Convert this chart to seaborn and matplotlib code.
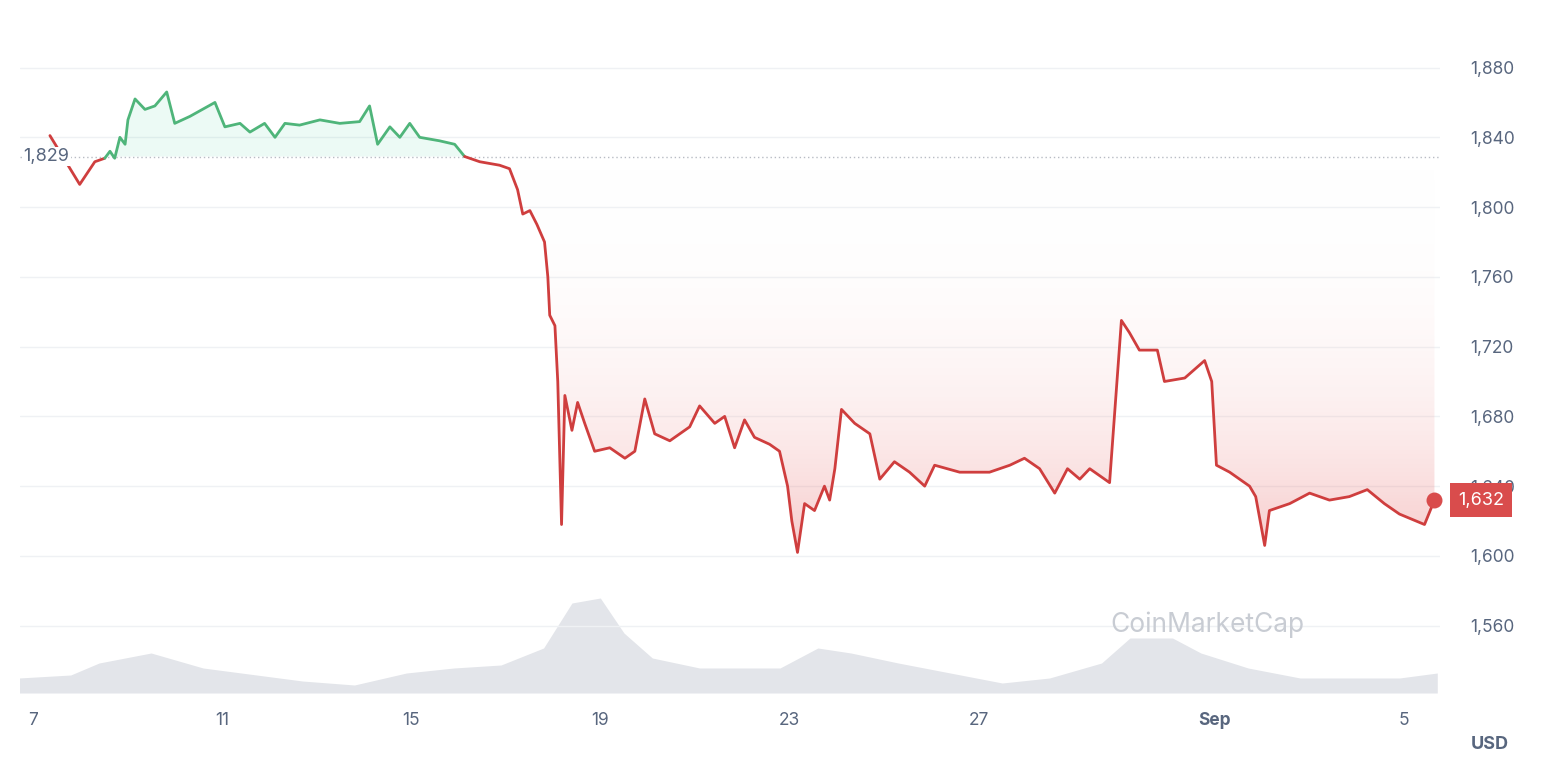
import numpy as np
import pandas as pd
import matplotlib.pyplot as plt
import matplotlib.dates as mdates
import seaborn as sns
from matplotlib.colors import LinearSegmentedColormap
from matplotlib.patches import Polygon

sns.set_style('white')
plt.rcParams['font.family'] = ['Inter', 'DejaVu Sans']

# days after Aug 7 00:00 and ETH price (USD)
days = [0.36, 0.99, 1.31, 1.52, 1.63, 1.73, 1.84, 1.95, 2.01, 2.16, 2.37, 2.58, 2.83, 3.0, 3.32,
        3.85, 4.06, 4.38, 4.59, 4.9, 5.12, 5.33, 5.64, 6.07, 6.49, 6.91, 7.12, 7.29, 7.55, 7.76,
        7.97, 8.18, 8.6, 8.92, 9.13, 9.45, 9.87, 10.08, 10.25, 10.36, 10.51, 10.66, 10.82, 10.89,
        10.93, 11.04, 11.1, 11.18, 11.25, 11.4, 11.52, 11.67, 11.88, 12.2, 12.52, 12.73, 12.94,
        13.15, 13.47, 13.89, 14.1, 14.42, 14.63, 14.84, 15.05, 15.26, 15.58, 15.79, 15.96, 16.05,
        16.17, 16.32, 16.53, 16.74, 16.85, 16.96, 17.1, 17.38, 17.7, 17.91, 18.22, 18.54, 18.86,
        19.07, 19.6, 20.23, 20.66, 20.97, 21.29, 21.61, 21.88, 22.14, 22.35, 22.77, 23.02, 23.19,
        23.4, 23.78, 23.93, 24.36, 24.78, 24.93, 25.03, 25.31, 25.73, 25.86, 26.05, 26.15, 26.58,
        27.0, 27.42, 27.84, 28.22, 28.58, 28.9, 29.43, 29.64]
prices = [1841, 1813, 1826, 1828, 1832, 1828, 1840, 1836, 1850, 1862, 1856, 1858, 1866, 1848, 1852,
          1860, 1846, 1848, 1843, 1848, 1840, 1848, 1847, 1850, 1848, 1849, 1858, 1836, 1846, 1840,
          1848, 1840, 1838, 1836, 1829, 1826, 1824, 1822, 1810, 1796, 1798, 1790, 1780, 1760,
          1738, 1732, 1700, 1618, 1692, 1672, 1688, 1676, 1660, 1662, 1656, 1660, 1690,
          1670, 1666, 1674, 1686, 1676, 1680, 1662, 1678, 1668, 1664, 1660, 1640, 1620,
          1602, 1630, 1626, 1640, 1632, 1650, 1684, 1676, 1670, 1644, 1654, 1648, 1640,
          1652, 1648, 1648, 1652, 1656, 1650, 1636, 1650, 1644, 1650, 1642, 1735, 1728,
          1718, 1718, 1700, 1702, 1712, 1700, 1652, 1648, 1640, 1634, 1606, 1626, 1630,
          1636, 1632, 1634, 1638, 1630, 1624, 1618, 1632]

vol_days = [-0.3, 0.8, 1.4, 2.5, 3.6, 5.7, 6.8, 7.9, 8.9, 9.9, 10.8, 11.4, 12.0, 12.5, 13.1, 14.1,
            15.8, 16.6, 17.3, 18.3, 19.4, 20.5, 21.5, 22.6, 23.2, 24.1, 24.7, 25.7, 26.8, 28.9, 29.7]
volumes = [15, 18, 30, 40, 25, 12, 8, 20, 25, 28, 45, 90, 95, 60, 35, 25,
           25, 45, 40, 30, 20, 10, 15, 30, 55, 55, 40, 25, 15, 15, 20]

base = 1829
start = pd.Timestamp('2023-08-07')
df = pd.DataFrame({'t': start + pd.to_timedelta(days, unit='D'), 'price': prices})
vdf = pd.DataFrame({'t': start + pd.to_timedelta(vol_days, unit='D'), 'vol': volumes})
cross = 34  # index where price falls back through the base line

fig = plt.figure(figsize=(15.48, 7.72), dpi=100)
ax = fig.add_axes([0.013, 1 - 693 / 772, 0.917, (693 - 10) / 772])
ymin, ymax = 1521.4, 1913
xmin, xmax = start + pd.Timedelta(days=-0.27), start + pd.Timedelta(days=29.75)

# volume in the bottom band
vax = fig.add_axes(ax.get_position(), sharex=ax)
vax.set_zorder(0)
ax.set_zorder(1)
ax.patch.set_visible(False)
vax.fill_between(vdf['t'], 0, vdf['vol'], color='#e3e5ea', lw=0)
vax.set_ylim(0, 683)
vax.axis('off')

# gradient fill between red part and base line
tn = mdates.date2num(df['t'])
red = LinearSegmentedColormap.from_list('r', [(1, 1, 1, 0), (0.91, 0.4, 0.4, 0.35)])
xn = mdates.date2num([xmin, xmax])
grad = np.linspace(1, 0, 256).reshape(-1, 1) ** 1.3
im = ax.imshow(grad, cmap=red, aspect='auto', extent=[xn[0], xn[1], 1600, base], origin='lower', zorder=1)
verts = [(tn[cross], base)] + list(zip(tn[cross:], prices[cross:])) + [(tn[-1], base)]
poly = Polygon(verts, closed=True, fc='none', ec='none', transform=ax.transData)
ax.add_patch(poly)
im.set_clip_path(poly)
ax.fill_between(df['t'], df['price'], base, where=df['price'] >= base, interpolate=True,
                color='#16c784', alpha=0.08, lw=0, zorder=1)

sns.lineplot(x=df['t'][:4], y=df['price'][:4], ax=ax, color='#cf3e3e', lw=2, zorder=3)
sns.lineplot(x=df['t'][3:cross + 1], y=df['price'][3:cross + 1], ax=ax, color='#4fb57a', lw=2, zorder=3)
sns.lineplot(x=df['t'][cross:], y=df['price'][cross:], ax=ax, color='#cf3e3e', lw=2, zorder=3)
ax.axhline(base, color='#b8bcc4', ls=(0, (1, 2)), lw=1, zorder=2)
ax.scatter([df['t'].iloc[-1]], [prices[-1]], s=110, color='#d94c4c', zorder=4, clip_on=False)

ax.set_xlim(xmin, xmax)
ax.set_ylim(ymin, ymax)
yt = list(range(1560, 1881, 40))
ax.set_yticks(yt)
ax.yaxis.tick_right()
ax.set_yticklabels([f'{v:,}' for v in yt], color='#58667e', fontsize=12.5)
for v in yt:
    ax.axhline(v, color='#eff1f4', lw=1, zorder=0)
tick_days = [0, 4, 8, 12, 16, 20, 25, 29]
tick_labels = ['7', '11', '15', '19', '23', '27', 'Sep', '5']
ax.set_xticks([start + pd.Timedelta(days=d) for d in tick_days])
ax.set_xticklabels(tick_labels, color='#58667e', fontsize=12.5)
ax.get_xticklabels()[6].set_fontweight('bold')
ax.tick_params(axis='both', length=0, pad=14)
ax.tick_params(axis='y', pad=22)
ax.set_xlabel('')
ax.set_ylabel('')
for s in ax.spines.values():
    s.set_visible(False)

ax.text(start + pd.Timedelta(days=-0.2), base, '1,829', ha='left', va='center', fontsize=13,
        color='#58667e', zorder=5, bbox=dict(fc='white', ec='none', pad=1))
ax.annotate('1,632', xy=(1.013, prices[-1]), xycoords=('axes fraction', 'data'), ha='left',
            va='center', fontsize=13, color='white', zorder=10,
            bbox=dict(boxstyle='square,pad=0.45', fc='#d94c4c', ec='none'), annotation_clip=False)
fig.text(0.975, 0.03, 'USD', ha='right', fontsize=13, color='#58667e', fontweight='bold')
ax.text(0.905, 0.09, 'CoinMarketCap', transform=ax.transAxes, ha='right', fontsize=19,
        color='#c8ccd3', zorder=0)

fig.savefig('out.png', dpi=100)
